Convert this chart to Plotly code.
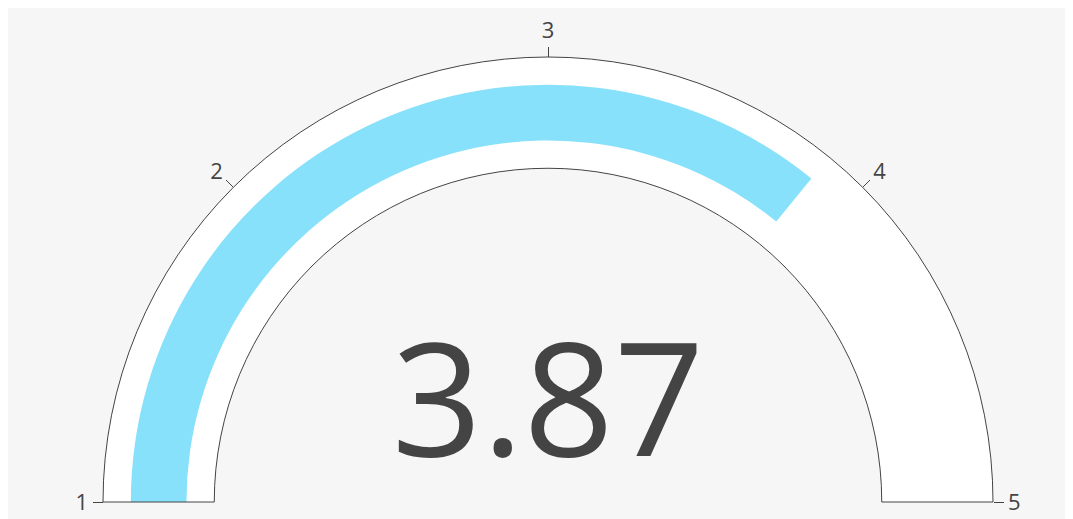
import plotly.graph_objects as go

# gauge data
score = 3.87
axis_range = [1, 5]
tick_values = [1, 2, 3, 4, 5]
tick_labels = ["1", "2", "3", "4", "5"]

fig = go.Figure(go.Indicator(
    mode="gauge+number",
    value=score,
    number=dict(font=dict(size=158, color="#444444"), valueformat=".2f"),
    gauge=dict(
        shape="angular",
        axis=dict(
            range=axis_range,
            tickvals=tick_values,
            ticktext=tick_labels,
            ticks="outside",
            ticklen=10,
            tickwidth=1,
            tickcolor="#444444",
            tickfont=dict(size=22, color="#444444"),
        ),
        bar=dict(color="#87e1fa", thickness=0.5, line=dict(width=0)),
        bgcolor="white",
        borderwidth=1,
        bordercolor="#444444",
    ),
))

fig.update_layout(
    width=1065, height=511,
    margin=dict(l=40, r=25, t=49, b=17),
    paper_bgcolor="#f6f6f6",
    font=dict(family="Open Sans", color="#444444"),
)

fig.write_html("out.html")
